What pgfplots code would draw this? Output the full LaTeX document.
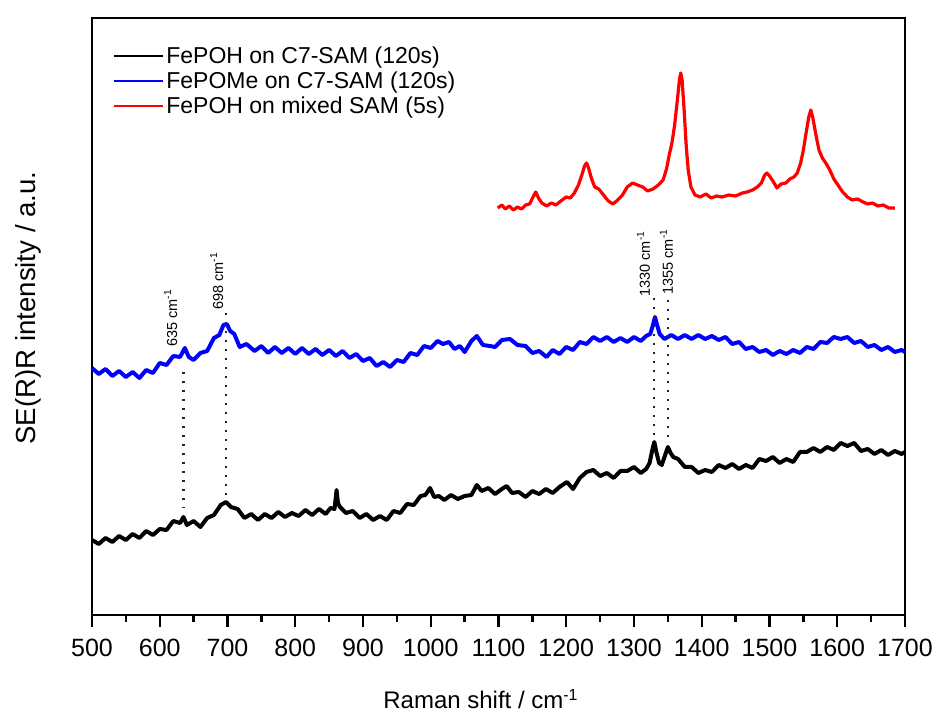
\documentclass[border=0pt]{standalone}
\usepackage{fontspec}
\setmainfont{Liberation Sans}
\usepackage{pgfplots}
\pgfplotsset{compat=1.18}
\begin{document}
\begin{tikzpicture}
\begin{axis}[
  scale only axis, width=406.5pt, height=298.5pt,
  xmin=500, xmax=1700, ymin=0, ymax=597,
  axis line style={line width=1.4pt},
  xtick={500,600,...,1700}, minor x tick num=1,
  ytick=\empty,
  tick align=outside, xtick pos=bottom,
  major tick length=6pt, minor tick length=3.5pt,
  every tick/.style={line width=1.2pt, black},
  /pgf/number format/assume math mode=true,
  /pgf/number format/1000 sep={},
  xticklabel style={font=\fontsize{12.5}{14}\selectfont, anchor=base, yshift=-15pt},
  xlabel={Raman shift / cm\textsuperscript{-1}},
  every axis x label/.style={at={(rel axis cs:0.5,0)}, anchor=base, xshift=-8.75pt, yshift=-47pt, font=\fontsize{12}{14}\selectfont},
  ylabel={SE(R)R intensity / a.u.},
  every axis y label/.style={at={(rel axis cs:0,0.5)}, xshift=-31.7pt, yshift=4.25pt, rotate=90, anchor=center, font=\fontsize{13.8}{16}\selectfont},
  legend style={draw=none, fill=none, at={(rel axis cs:0,1)}, anchor=north west, xshift=10.5pt, yshift=-13pt, inner sep=0pt, row sep=0.7pt, column sep=0pt, nodes={inner sep=1pt}, font=\fontsize{11.5}{13}\selectfont},
  legend cell align=left,
  legend image code/.code={\draw[#1, line width=1pt] (0pt,0pt) -- (24.5pt,0pt);},
]
\addplot[black, line width=2pt, line join=round] coordinates {
(500,75)(510,71)(520,77)(530,73)(540,79)(550,75)(560,81)(570,77)(580,84)(590,80)
(600,86)(610,85)(620,94)(630,92)(635,98)(640,90)(650,94)(660,88)(670,97)(680,100)
(690,110)(698,113)(705,108)(715,106)(725,97)(735,101)(745,95)(755,101)(765,97)(775,103)
(785,98)(795,102)(805,99)(815,105)(825,100)(835,106)(845,101)(852,107)(858,106)(861,125)
(863,112)(866,108)(875,102)(885,104)(895,97)(905,101)(915,95)(925,99)(935,95)(945,104)
(955,102)(965,111)(975,110)(985,119)(992,120)(999,127)(1005,118)(1012,119)(1020,115)(1030,120)
(1040,116)(1050,119)(1060,120)(1068,130)(1075,124)(1085,127)(1095,121)(1105,126)(1112,129)(1120,122)
(1130,123)(1140,118)(1150,124)(1160,121)(1170,126)(1180,122)(1190,128)(1201,133)(1210,126)(1220,137)
(1230,143)(1240,145)(1250,139)(1260,142)(1270,137)(1280,144)(1290,144)(1300,148)(1310,142)(1318,146)
(1323,152)(1327,165)(1330,173)(1333,163)(1337,152)(1341,150)(1345,158)(1350,168)(1354,162)(1358,158)
(1365,156)(1375,148)(1385,148)(1395,142)(1405,145)(1415,143)(1425,150)(1435,147)(1445,151)(1455,146)
(1465,150)(1475,147)(1485,156)(1495,154)(1505,158)(1515,152)(1525,156)(1535,153)(1545,163)(1555,163)
(1565,167)(1575,163)(1585,168)(1595,165)(1605,172)(1615,169)(1625,172)(1635,164)(1645,166)(1655,161)
(1665,165)(1675,160)(1685,164)(1695,161)(1700,163)
};
\addlegendentry{FePOH on C7-SAM (120s)}
\addplot[blue, line width=2pt, line join=round] coordinates {
(500,247)(510,241)(520,246)(530,239)(540,244)(550,238)(560,243)(570,237)(580,245)(590,242)
(600,252)(610,250)(620,259)(630,258)(637,267)(643,258)(650,255)(660,262)(670,264)(680,277)
(688,280)(694,290)(699,291)(704,284)(710,281)(718,268)(728,271)(740,264)(750,269)(760,262)
(770,268)(780,262)(790,267)(800,261)(810,267)(820,261)(830,266)(840,260)(850,265)(860,259)
(870,264)(880,257)(890,261)(900,254)(910,257)(920,249)(930,253)(940,248)(950,255)(960,253)
(970,262)(980,260)(990,269)(1000,267)(1010,274)(1018,271)(1027,273)(1035,266)(1043,269)(1050,263)
(1060,274)(1068,279)(1077,270)(1087,269)(1095,268)(1105,275)(1117,276)(1128,270)(1140,269)(1150,262)
(1160,264)(1171,258)(1180,265)(1190,261)(1200,268)(1210,265)(1220,273)(1230,271)(1240,278)(1250,274)
(1260,278)(1270,273)(1280,277)(1290,273)(1300,278)(1310,274)(1318,279)(1324,281)(1328,290)(1331,298)
(1334,290)(1338,281)(1345,276)(1355,280)(1365,276)(1375,280)(1385,276)(1395,280)(1405,276)(1415,279)
(1425,275)(1435,278)(1445,271)(1455,273)(1465,266)(1475,268)(1485,263)(1495,265)(1505,260)(1515,264)
(1525,261)(1535,265)(1545,262)(1555,268)(1565,266)(1575,273)(1585,272)(1595,278)(1605,276)(1615,278)
(1625,272)(1635,274)(1645,268)(1655,270)(1665,265)(1675,268)(1685,263)(1695,265)(1700,263)
};
\addlegendentry{FePOMe on C7-SAM (120s)}
\addplot[red, line width=1.6pt, line join=round] coordinates {
(1099,407)(1105,410)(1110,406)(1116,409)(1122,405)(1128,408)(1134,406)(1140,410)(1146,411)(1151,418)
(1155,423)(1159,417)(1164,412)(1171,409)(1178,412)(1185,410)(1192,414)(1200,418)(1206,417)(1212,422)
(1218,430)(1223,440)(1227,449)(1230,452)(1233,447)(1237,437)(1242,428)(1248,426)(1255,420)(1262,414)
(1269,411)(1276,415)(1283,420)(1290,428)(1298,432)(1305,430)(1313,428)(1320,424)(1328,426)(1336,430)
(1343,435)(1348,446)(1352,460)(1356,472)(1360,490)(1364,515)(1367,535)(1369,542)(1371,535)(1374,505)
(1377,470)(1380,445)(1384,428)(1390,420)(1398,418)(1406,421)(1414,417)(1422,419)(1430,418)(1440,420)
(1450,419)(1460,422)(1467,423)(1475,425)(1482,428)(1488,432)(1493,440)(1496,442)(1500,439)(1505,434)
(1511,427)(1517,431)(1524,432)(1530,436)(1536,438)(1541,442)(1546,452)(1550,465)(1554,482)(1558,498)
(1561,505)(1564,497)(1568,482)(1573,465)(1578,457)(1584,451)(1589,445)(1595,436)(1601,430)(1608,423)
(1615,418)(1622,415)(1630,416)(1638,413)(1645,411)(1652,412)(1660,409)(1668,410)(1676,407)(1685,407)
};
\addlegendentry{FePOH on mixed SAM (5s)}
% peak markers
\draw[black!85, line width=1.1pt, dash pattern=on 1.1pt off 3.4pt] (axis cs:635,243) -- (axis cs:635,107);
\draw[black!85, line width=1.1pt, dash pattern=on 1.1pt off 3.4pt] (axis cs:698,302) -- (axis cs:698,118);
\draw[black!85, line width=1.1pt, dash pattern=on 1.1pt off 3.4pt] (axis cs:1330,317) -- (axis cs:1330,177);
\draw[black!85, line width=1.1pt, dash pattern=on 1.1pt off 3.4pt] (axis cs:1350,315) -- (axis cs:1350,173);
\node[xshift=-3.2pt, rotate=90, anchor=base west, inner sep=0pt, font=\fontsize{7.25}{8}\selectfont] at (axis cs:635,268) {635 cm\textsuperscript{-1}};
\node[xshift=-1.5pt, rotate=90, anchor=base west, inner sep=0pt, font=\fontsize{7.25}{8}\selectfont] at (axis cs:698,305) {698 cm\textsuperscript{-1}};
\node[xshift=-2.2pt, rotate=90, anchor=base west, inner sep=0pt, font=\fontsize{7.25}{8}\selectfont] at (axis cs:1330,318) {1330 cm\textsuperscript{-1}};
\node[xshift=2.5pt, rotate=90, anchor=base west, inner sep=0pt, font=\fontsize{7.25}{8}\selectfont] at (axis cs:1350,320) {1355 cm\textsuperscript{-1}};
\coordinate (axll) at (rel axis cs:0,0);
\coordinate (axur) at (rel axis cs:1,1);
\end{axis}
\pgfresetboundingbox
\path ([xshift=-46pt,yshift=-51pt]axll) rectangle ([xshift=17pt,yshift=9pt]axur);
\end{tikzpicture}
\end{document}
